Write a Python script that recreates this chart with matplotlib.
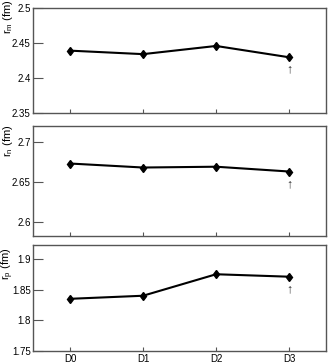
import matplotlib
matplotlib.use('Agg')
import matplotlib.pyplot as plt
import matplotlib.ticker as ticker

# data
labels = ['D0', 'D1', 'D2', 'D3']
r_m = [2.439, 2.434, 2.4457, 2.4295]
r_n = [2.673, 2.668, 2.669, 2.663]
r_p = [1.835, 1.840, 1.875, 1.871]

plt.rcParams['font.family'] = ['Liberation Sans', 'DejaVu Sans']
plt.rcParams['font.size'] = 7

fig = plt.figure(figsize=(3.31, 3.64), dpi=100)
ax1 = fig.add_axes([0.101, 0.690, 0.883, 0.288])
ax2 = fig.add_axes([0.101, 0.352, 0.883, 0.302])
ax3 = fig.add_axes([0.101, 0.0357, 0.883, 0.291])

panels = [
    (ax1, r_m, 'r$_\\mathregular{m}$ (fm)', (2.35, 2.5), [2.35, 2.4, 2.45, 2.5], 1.08),
    (ax2, r_n, 'r$_\\mathregular{n}$ (fm)', (2.5825, 2.72), [2.6, 2.65, 2.7], 1.01),
    (ax3, r_p, 'r$_\\mathregular{p}$ (fm)', (1.75, 1.9225), [1.75, 1.8, 1.85, 1.9], 0.98),
]

x = list(range(len(labels)))
for ax, y, lab, lim, yt, ytop in panels:
    ax.plot(x, y, color='black', lw=1.5, marker='d', ms=4.5, mfc='black', mec='black')
    ax.set_xlim(-0.5, 3.5)
    ax.set_ylim(*lim)
    ax.set_yticks(yt)
    ax.yaxis.set_major_formatter(ticker.FuncFormatter(lambda v, pos: '%g' % round(v, 3)))
    ax.set_xticks(x)
    ax.text(-0.088, ytop, lab, rotation=90, ha='center', va='top', fontsize=8,
            transform=ax.transAxes)
    ax.tick_params(axis='y', direction='in', length=7, width=0.8, color='#555555', pad=2)
    ax.tick_params(axis='x', direction='in', length=3, width=0.8, color='#555555', pad=2)
    for s in ax.spines.values():
        s.set_color('#555555')
        s.set_linewidth(1.0)
    # arrow marker under last point
    ax.annotate('\u2191', xy=(x[-1], y[-1]), xytext=(0, -9), textcoords='offset points',
                ha='center', va='center', fontsize=9, color='#333333')

ax1.set_xticklabels([])
ax2.set_xticklabels([])
ax3.set_xticklabels(labels)

plt.savefig('out.png', dpi=100)
